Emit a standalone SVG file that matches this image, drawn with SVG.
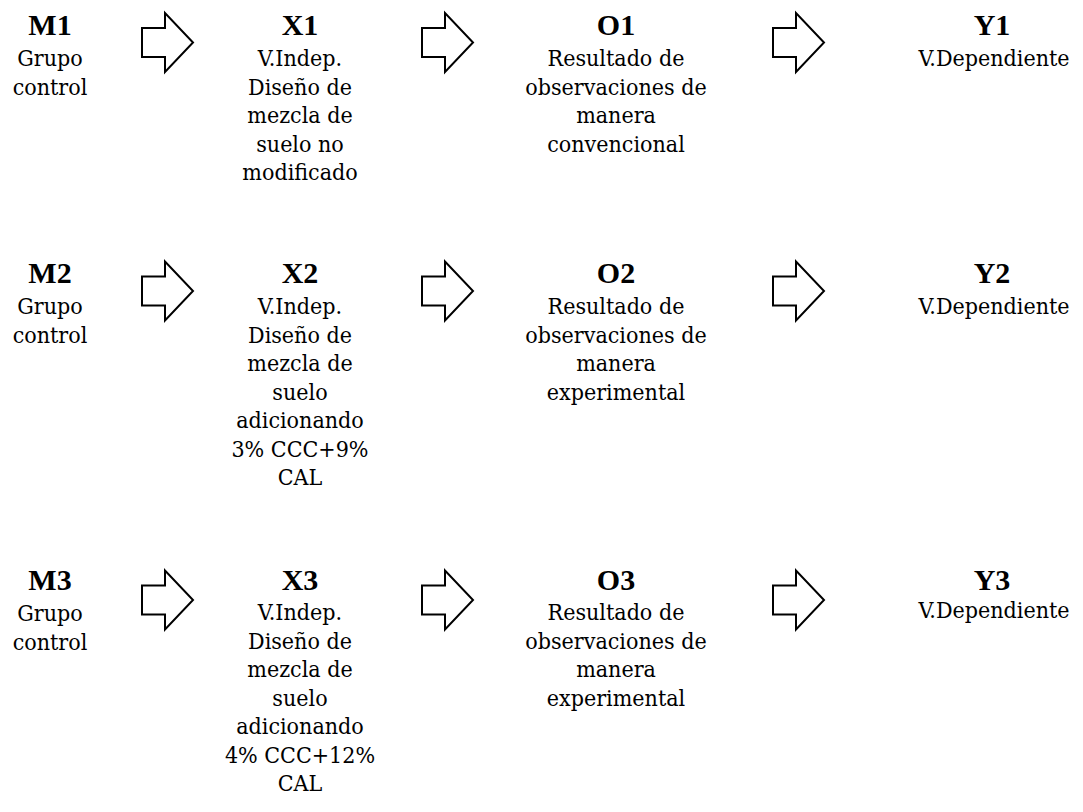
<svg xmlns="http://www.w3.org/2000/svg" width="1083" height="812" viewBox="0 0 1083 812">
<style>
text{fill:#000;text-anchor:middle}
.h{font-family:"Liberation Serif","Times New Roman",serif;font-size:30px;font-weight:bold}
.t{font-family:"DejaVu Serif","Liberation Serif",serif;font-stretch:condensed;font-size:23px}
.arrow{fill:#fff;stroke:#000;stroke-width:2;stroke-linejoin:miter}
</style>
<defs>
<path id="arr" d="M0,-14.5 H23 V-29.5 L51,0 L23,29.5 V14.5 H0 Z"/>
</defs>
<rect width="1083" height="812" fill="#fff"/>
<g id="connectors">
<use href="#arr" class="arrow" x="142" y="42.5"/>
<use href="#arr" class="arrow" x="422" y="42.5"/>
<use href="#arr" class="arrow" x="773" y="42.5"/>
<use href="#arr" class="arrow" x="142" y="291"/>
<use href="#arr" class="arrow" x="422" y="291"/>
<use href="#arr" class="arrow" x="773" y="291"/>
<use href="#arr" class="arrow" x="142" y="600"/>
<use href="#arr" class="arrow" x="422" y="600"/>
<use href="#arr" class="arrow" x="773" y="600"/>
</g>
<g id="M1"><text class="h" x="50" y="35">M1</text><text class="t" x="50" y="66">Grupo</text><text class="t" x="50" y="95">control</text></g>
<g id="X1"><text class="h" x="300" y="35">X1</text><text class="t" x="300" y="66">V.Indep.</text><text class="t" x="300" y="94.5">Diseño de</text><text class="t" x="300" y="123">mezcla de</text><text class="t" x="300" y="151.5">suelo no</text><text class="t" x="300" y="180">modificado</text></g>
<g id="O1"><text class="h" x="616" y="35">O1</text><text class="t" x="616" y="66">Resultado de</text><text class="t" x="616" y="94.5">observaciones de</text><text class="t" x="616" y="123">manera</text><text class="t" x="616" y="151.5">convencional</text></g>
<g id="Y1"><text class="h" x="992" y="35">Y1</text><text class="t" x="994" y="66">V.Dependiente</text></g>

<g id="M2"><text class="h" x="50" y="283">M2</text><text class="t" x="50" y="314">Grupo</text><text class="t" x="50" y="343">control</text></g>
<g id="X2"><text class="h" x="300" y="283">X2</text><text class="t" x="300" y="314">V.Indep.</text><text class="t" x="300" y="342.5">Diseño de</text><text class="t" x="300" y="371">mezcla de</text><text class="t" x="300" y="399.5">suelo</text><text class="t" x="300" y="428">adicionando</text><text class="t" x="300" y="456.5">3% CCC+9%</text><text class="t" x="300" y="485">CAL</text></g>
<g id="O2"><text class="h" x="616" y="283">O2</text><text class="t" x="616" y="314">Resultado de</text><text class="t" x="616" y="342.5">observaciones de</text><text class="t" x="616" y="371">manera</text><text class="t" x="616" y="399.5">experimental</text></g>
<g id="Y2"><text class="h" x="992" y="283">Y2</text><text class="t" x="994" y="314">V.Dependiente</text></g>

<g id="M3"><text class="h" x="50" y="590">M3</text><text class="t" x="50" y="621">Grupo</text><text class="t" x="50" y="650">control</text></g>
<g id="X3"><text class="h" x="300" y="590">X3</text><text class="t" x="300" y="620">V.Indep.</text><text class="t" x="300" y="648.5">Diseño de</text><text class="t" x="300" y="677">mezcla de</text><text class="t" x="300" y="705.5">suelo</text><text class="t" x="300" y="734">adicionando</text><text class="t" x="300" y="762.5">4% CCC+12%</text><text class="t" x="300" y="791">CAL</text></g>
<g id="O3"><text class="h" x="616" y="590">O3</text><text class="t" x="616" y="620">Resultado de</text><text class="t" x="616" y="648.5">observaciones de</text><text class="t" x="616" y="677">manera</text><text class="t" x="616" y="705.5">experimental</text></g>
<g id="Y3"><text class="h" x="992" y="590">Y3</text><text class="t" x="994" y="618">V.Dependiente</text></g>
</svg>
